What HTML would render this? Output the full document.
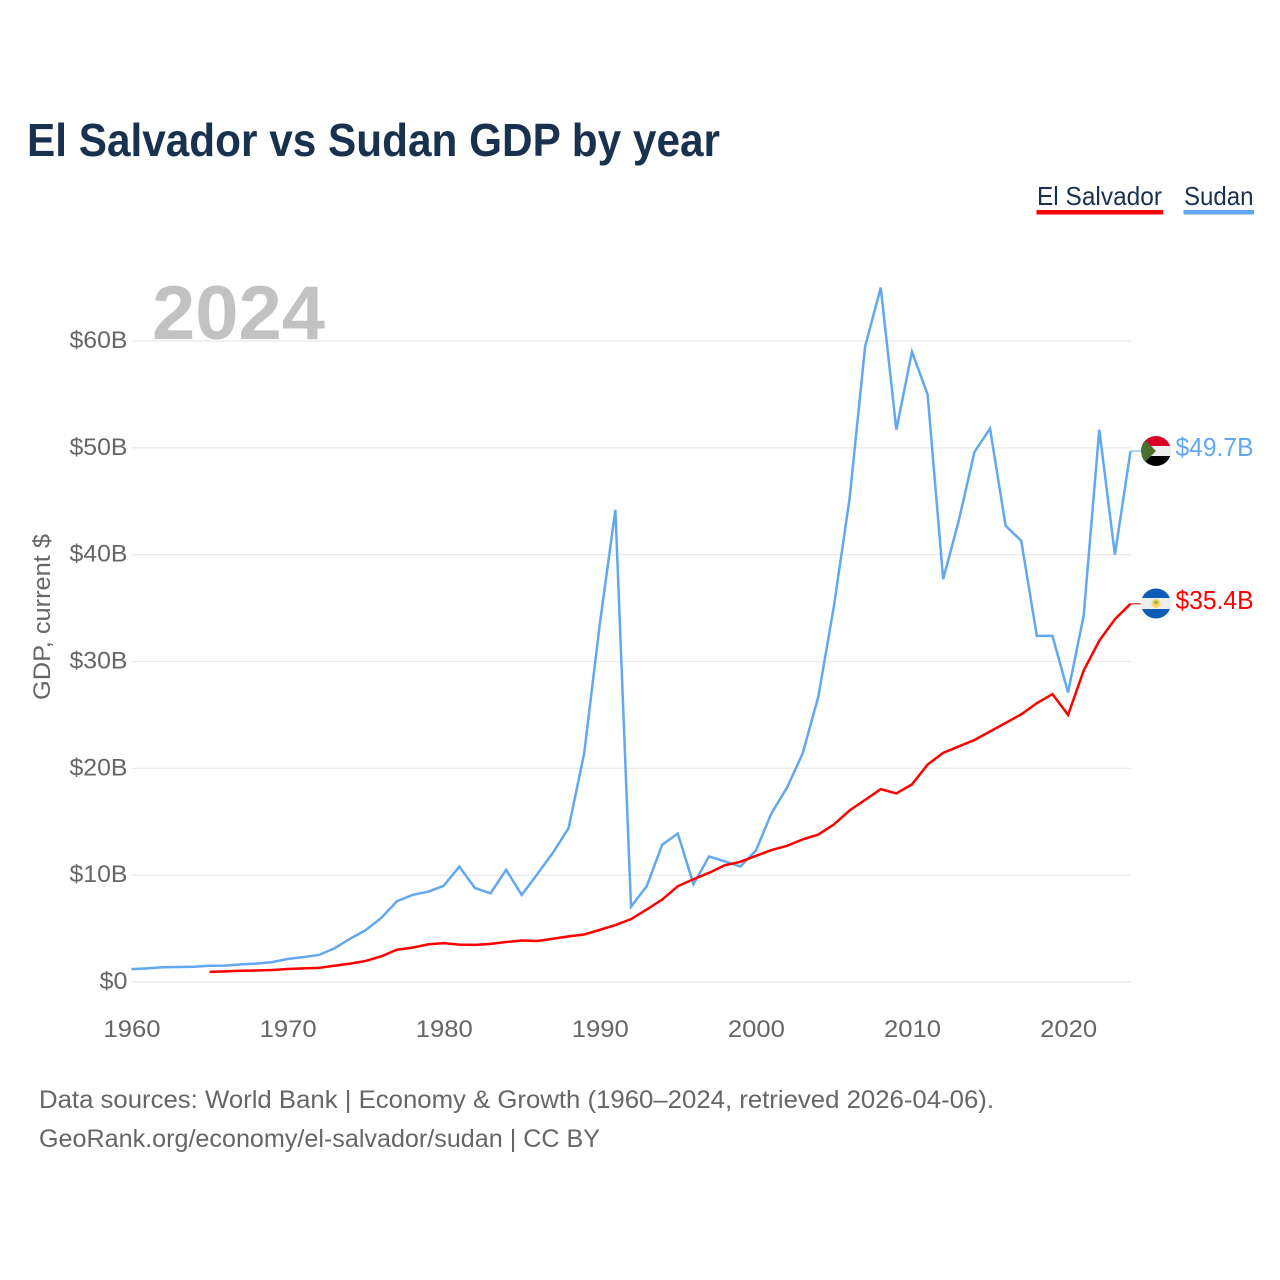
<!DOCTYPE html>
<html lang="en">
<head>
<meta charset="utf-8">
<title>El Salvador vs Sudan GDP by year</title>
<style>
html,body{margin:0;padding:0;background:#fff;}
svg{display:block;font-family:"Liberation Sans",sans-serif;}
</style>
</head>
<body>
<svg id="chart" xmlns="http://www.w3.org/2000/svg" width="1280" height="1280" viewBox="0 0 1280 1280">
  <defs>
    <clipPath id="clip-sudan"><circle cx="1156" cy="451" r="15"/></clipPath>
    <clipPath id="clip-salvador"><circle cx="1156" cy="603.5" r="15"/></clipPath>
  </defs>
  <rect x="0" y="0" width="1280" height="1280" fill="#ffffff"/>
  <text x="27" y="156" font-size="46" font-weight="700" fill="#18314f" textLength="693" lengthAdjust="spacingAndGlyphs">El Salvador vs Sudan GDP by year</text>

  <g>
    <text x="1037" y="205" font-size="26" fill="#18314f" textLength="125" lengthAdjust="spacingAndGlyphs">El Salvador</text>
    <rect x="1036.500" y="210" width="126.500" height="4.500" fill="#ff0000"/>
  </g>
  <g>
    <text x="1184" y="205" font-size="26" fill="#18314f" textLength="69.500" lengthAdjust="spacingAndGlyphs">Sudan</text>
    <rect x="1183.500" y="210" width="70.500" height="4.500" fill="#62a8ee"/>
  </g>

  <text x="152" y="339" font-size="76" font-weight="700" fill="#c2c2c2" textLength="173" lengthAdjust="spacingAndGlyphs">2024</text>

  <g id="grid"></g>
  <g id="yticks"></g>
  <g id="xticks"></g>
  <text transform="translate(50,700) rotate(-90)" font-size="24" fill="#666666" textLength="166" lengthAdjust="spacingAndGlyphs">GDP, current $</text>
  <g id="series"></g>

  <g clip-path="url(#clip-sudan)">
    <rect x="1140" y="435" width="32" height="32" fill="#eeeeee"/>
    <rect x="1140" y="435" width="32" height="11" fill="#d80027"/>
    <rect x="1140" y="456" width="32" height="11" fill="#000000"/>
    <polygon points="1140,435 1156,451 1140,467" fill="#496e2d"/>
  </g>
  <g clip-path="url(#clip-salvador)">
    <rect x="1140" y="587" width="32" height="33" fill="#eeeeee"/>
    <rect x="1140" y="587" width="32" height="11" fill="#0f5cb8"/>
    <rect x="1140" y="609" width="32" height="11" fill="#0f5cb8"/>
    <circle cx="1156" cy="603.500" r="4.500" fill="#ffd35a"/>
    <circle cx="1156" cy="602.500" r="2" fill="#9db35a"/>
  </g>

  <text id="label-sudan" x="1175.500" y="456" font-size="26" fill="#62a8ee" textLength="78" lengthAdjust="spacingAndGlyphs"></text>
  <text id="label-salvador" x="1175.500" y="609" font-size="26" fill="#ff0000" textLength="78" lengthAdjust="spacingAndGlyphs"></text>

  <text x="39" y="1108" font-size="25" fill="#666666" textLength="955" lengthAdjust="spacingAndGlyphs">Data sources: World Bank | Economy &amp; Growth (1960–2024, retrieved 2026-04-06).</text>
  <text x="39" y="1147" font-size="25" fill="#666666" textLength="561" lengthAdjust="spacingAndGlyphs">GeoRank.org/economy/el-salvador/sudan | CC BY</text>
</svg>
<script>
const years = [1960,1961,1962,1963,1964,1965,1966,1967,1968,1969,1970,1971,1972,1973,1974,1975,1976,1977,1978,1979,1980,1981,1982,1983,1984,1985,1986,1987,1988,1989,1990,1991,1992,1993,1994,1995,1996,1997,1998,1999,2000,2001,2002,2003,2004,2005,2006,2007,2008,2009,2010,2011,2012,2013,2014,2015,2016,2017,2018,2019,2020,2021,2022,2023,2024];
const sudanGdp = [1.2,1.28,1.38,1.4,1.43,1.52,1.53,1.65,1.72,1.86,2.15,2.33,2.53,3.15,4.05,4.85,6.0,7.55,8.15,8.45,9.0,10.8,8.8,8.3,10.5,8.15,10.1,12.1,14.4,21.4,33.5,44.2,7.05,8.95,12.85,13.9,9.15,11.75,11.3,10.8,12.3,15.8,18.2,21.4,26.7,35.2,45.2,59.5,65.0,51.7,59.0,55.0,37.7,43.2,49.6,51.8,42.7,41.3,32.4,32.4,27.1,34.3,51.7,40.0,49.7];
const salvadorGdp = [null,null,null,null,null,0.95,1.0,1.05,1.08,1.12,1.22,1.27,1.32,1.52,1.72,1.97,2.4,3.02,3.22,3.52,3.64,3.5,3.47,3.57,3.74,3.88,3.84,4.05,4.27,4.45,4.88,5.33,5.88,6.78,7.72,8.97,9.62,10.22,10.92,11.25,11.8,12.35,12.75,13.35,13.8,14.75,16.05,17.05,18.05,17.65,18.5,20.35,21.45,22.05,22.65,23.45,24.25,25.05,26.1,26.95,25.0,29.15,31.95,33.95,35.4];
const yTickValues = [0,10,20,30,40,50,60];
const yTickLabels = ["$0","$10B","$20B","$30B","$40B","$50B","$60B"];
const xTickValues = [1960,1970,1980,1990,2000,2010,2020];
const xTickLabels = ["1960","1970","1980","1990","2000","2010","2020"];

const NS = "http://www.w3.org/2000/svg";
const plotLeft = 131.5, plotRight = 1130.5, plotBottom = 982, plotTop = 341;
const gridLeft = 132, gridRight = 1131;
const flagX = 1141;

function xScale(year) {
  return plotLeft + (year - 1960) * (plotRight - plotLeft) / 64;
}
function yScale(value) {
  return plotBottom - value * (plotBottom - plotTop) / 60;
}
function make(tag, attrs, parent) {
  const el = document.createElementNS(NS, tag);
  for (const k in attrs) el.setAttribute(k, attrs[k]);
  parent.appendChild(el);
  return el;
}

const grid = document.getElementById("grid");
const yticks = document.getElementById("yticks");
const xticks = document.getElementById("xticks");
const seriesGroup = document.getElementById("series");

yTickValues.forEach(function (v, i) {
  const line = make("line", {x1: gridLeft, x2: gridRight, y1: yScale(v), y2: yScale(v), stroke: "#ebebeb", "stroke-width": 1.3}, grid);
  
  
  const label = yTickLabels[i];
  const t = make("text", {x: 127.5, y: yScale(v) + 7, "text-anchor": "end", "font-size": 24, fill: "#666666"}, yticks);
  t.setAttribute("textLength", label.length > 2 ? 58 : 28);
  t.setAttribute("lengthAdjust", "spacingAndGlyphs");
  t.textContent = label;
  
  
});

xTickValues.forEach(function (v, i) {
  const t = make("text", {x: xScale(v) - 28, y: 1037, "font-size": 24, fill: "#666666", textLength: 57, lengthAdjust: "spacingAndGlyphs"}, xticks);
  t.textContent = xTickLabels[i];
  
  
});

function drawSeries(values, color, name, connectorColor) {
  let d = "";
  let lastX = 0, lastY = 0;
  values.forEach(function (v, i) {
    if (v === null) return;
    lastX = xScale(years[i]);
    lastY = yScale(v);
    d += (d ? "L" : "M") + lastX.toFixed(2) + " " + lastY.toFixed(2);
  });
  const c = make("line", {x1: lastX, x2: flagX, y1: lastY, y2: lastY, stroke: connectorColor, "stroke-width": 1}, seriesGroup);
  
  
  const p = make("path", {d: d, fill: "none", stroke: color, "stroke-width": 2.5, "stroke-linejoin": "miter"}, seriesGroup);
  
  
}
drawSeries(sudanGdp, "#62a8ee", "sudan-gdp-line", "#62a8ee");
drawSeries(salvadorGdp, "#ff0000", "el-salvador-gdp-line", "#ff0000");

function money(v) { return "$" + v.toFixed(1) + "B"; }
document.getElementById("label-sudan").textContent = money(sudanGdp[sudanGdp.length - 1]);
document.getElementById("label-salvador").textContent = money(salvadorGdp[salvadorGdp.length - 1]);
</script>
</body>
</html>
